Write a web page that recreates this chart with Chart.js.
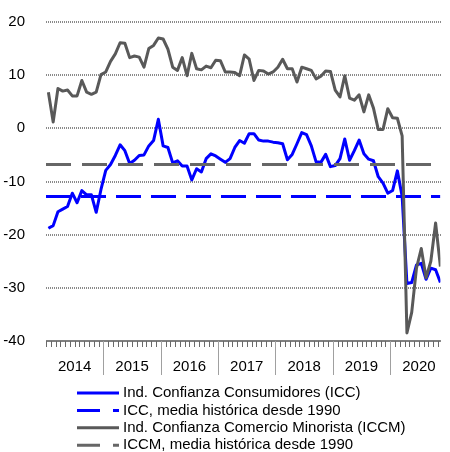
<!DOCTYPE html>
<html>
<head>
<meta charset="utf-8">
<script src="https://cdn.jsdelivr.net/npm/chart.js@4"></script>
<style>
html, body { margin: 0; padding: 0; background: #fff; }
</style>
</head>
<body>
<canvas id="chart" width="450" height="452"></canvas>
<script>
// monthly values, Jan 2014 .. Nov 2020
const years = ['2014', '2015', '2016', '2017', '2018', '2019', '2020'];

const icc = [
  -18.8, -18.3, -15.7, -15.2, -14.7, -12.2, -14.0, -11.7, -12.5, -12.5, -15.8, -11.5,
  -7.9, -6.8, -5.1, -3.1, -4.2, -6.6, -6.0, -5.1, -5.0, -3.3, -2.3, 1.7,
  -3.3, -3.6, -6.5, -6.1, -7.1, -7.1, -9.7, -7.6, -8.2, -5.7, -4.8, -5.2,
  -5.8, -6.4, -5.7, -3.6, -2.3, -2.8, -1.0, -1.0, -2.2, -2.4, -2.4, -2.6,
  -2.7, -2.9, -5.9, -4.9, -2.9, -0.8, -1.2, -3.3, -6.3, -6.4, -4.9, -7.2,
  -7.0, -5.7, -2.0, -6.0, -4.2, -2.2, -4.8, -5.8, -6.1, -9.1, -10.3, -12.2,
  -11.7, -8.0, -12.8, -29.2, -29.0, -25.7, -25.4, -28.4, -26.3, -26.6, -29.0
];

const iccm = [
  6.8, 1.2, 7.5, 7.0, 7.2, 6.1, 6.1, 9.0, 6.8, 6.4, 6.8, 10.1,
  10.6, 12.6, 14.0, 16.1, 16.0, 13.3, 13.6, 13.4, 11.5, 15.0, 15.6, 17.0,
  16.8, 14.9, 11.5, 10.9, 13.3, 9.9, 14.1, 11.2, 11.0, 11.7, 11.4, 12.8,
  12.7, 10.6, 10.6, 10.5, 9.9, 13.8, 13.0, 9.0, 10.9, 10.8, 10.2, 10.6,
  11.5, 13.0, 11.2, 11.2, 8.7, 11.5, 11.2, 10.9, 9.3, 9.8, 10.8, 10.7,
  7.2, 5.9, 9.9, 5.7, 5.3, 6.3, 3.1, 6.3, 3.8, -0.2, -0.2, 3.7,
  2.0, 1.9, -1.4, -38.5, -34.6, -26.3, -22.6, -28.1, -25.0, -17.8, -26.0
];

const iccMean = -12.8;
const iccmMean = -6.8;

const xMax = 82.5;
const monthly = arr => arr.map((v, i) => ({ x: i + 0.5, y: v }));
const flat = v => [{ x: 0, y: v }, { x: xMax, y: v }];

const BLUE = '#0000ff';
const GREY = '#595959';
const GREY_DASH = '#666666';

const extras = {
  id: 'extras',
  beforeDatasetsDraw(chart) {
    // dotted horizontal grid
    const ctx = chart.ctx;
    const ys = chart.scales.y;
    const { left, right } = chart.chartArea;
    ctx.save();
    ctx.fillStyle = '#8a8a8a';
    ys.ticks.forEach(t => {
      const py = Math.round(ys.getPixelForValue(t.value));
      for (let x = Math.round(left); x < right; x += 2) ctx.fillRect(x, py - 1, 1, 2);
    });
    ctx.restore();
  },
  afterDraw(chart) {
    const ctx = chart.ctx;
    const xs = chart.scales.x;
    const { left, right, bottom } = chart.chartArea;
    ctx.save();
    // axis line, month ticks, year separators
    ctx.fillStyle = '#808080';
    ctx.fillRect(Math.round(left), Math.round(bottom) - 1, Math.round(right - left), 2);
    for (let m = 0; m <= Math.floor(xMax); m++) {
      const px = Math.round(xs.getPixelForValue(m));
      const long = m % 12 === 0 && m > 0;
      ctx.fillStyle = long ? '#a0a0a0' : '#6a6a6a';
      ctx.fillRect(px, Math.round(bottom), 1, long ? 34 : 6);
    }
    // legend, one row per dataset
    ctx.font = '15px "Liberation Sans", Arial, sans-serif';
    ctx.textBaseline = 'middle';
    chart.data.datasets.forEach((ds, i) => {
      const y = 393 + i * 17.4;
      ctx.strokeStyle = ds.borderColor;
      ctx.lineWidth = 3;
      ctx.setLineDash(ds.borderDash ? [23, 13] : []);
      ctx.beginPath();
      ctx.moveTo(77, y);
      ctx.lineTo(119, y);
      ctx.stroke();
      ctx.setLineDash([]);
      ctx.fillStyle = '#000';
      ctx.fillText(ds.label, 123, y);
    });
    ctx.restore();
  }
};

Chart.defaults.font.family = '"Liberation Sans", Arial, sans-serif';
Chart.defaults.font.size = 15;
Chart.defaults.color = '#000';

new Chart(document.getElementById('chart'), {
  type: 'line',
  data: {
    datasets: [{
      label: 'Ind. Confianza Consumidores (ICC)',
      data: monthly(icc),
      borderColor: BLUE,
      borderWidth: 3,
      order: 3
    }, {
      label: 'ICC, media histórica desde 1990',
      data: flat(iccMean),
      borderColor: BLUE,
      borderWidth: 3,
      borderDash: [25, 10],
      order: 2
    }, {
      label: 'Ind. Confianza Comercio Minorista (ICCM)',
      data: monthly(iccm),
      borderColor: GREY,
      borderWidth: 3,
      order: 1
    }, {
      label: 'ICCM, media histórica desde 1990',
      data: flat(iccmMean),
      borderColor: GREY_DASH,
      borderWidth: 3,
      borderDash: [25, 11],
      order: 0
    }]
  },
  options: {
    responsive: false,
    animation: false,
    elements: {
      point: { radius: 0 },
      line: { tension: 0, fill: false, borderCapStyle: 'butt', borderJoinStyle: 'round' }
    },
    layout: { padding: { top: 15, right: 0, bottom: 75, left: 0 } },
    plugins: {
      legend: { display: false },
      tooltip: { enabled: false }
    },
    scales: {
      x: {
        type: 'linear',
        min: 0,
        max: xMax,
        afterBuildTicks: scale => {
          const t = [];
          for (let m = 0; m <= Math.floor(xMax); m++) t.push({ value: m });
          scale.ticks = t;
        },
        afterFit: scale => { scale.height = 36; },
        ticks: {
          autoSkip: false,
          maxRotation: 0,
          padding: 12,
          callback: v => (v % 12 === 6 ? years[(v - 6) / 12] : '')
        },
        grid: {
          drawOnChartArea: false,
          drawTicks: true,
          tickLength: 5,
          tickColor: 'rgba(0,0,0,0)'
        },
        border: { display: false }
      },
      y: {
        min: -40,
        max: 20,
        afterFit: scale => { scale.width = 46; },
        ticks: { stepSize: 10, padding: 13 },
        grid: { display: false },
        border: { display: false }
      }
    }
  },
  plugins: [extras]
});
</script>
</body>
</html>
